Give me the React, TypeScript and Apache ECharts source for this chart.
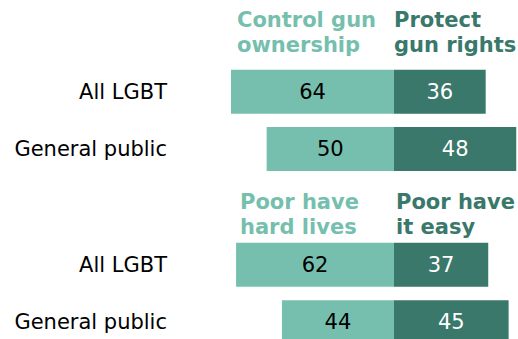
import React, { useEffect, useRef } from "react";
import * as echarts from "echarts";

const categories = ["All LGBT", "General public"];
const controlGun = [64, 50];
const protectGun = [36, 48];
const poorHard = [62, 44];
const poorEasy = [37, 45];
const headerLeft1 = "Control gun\nownership";
const headerRight1 = "Protect\ngun rights";
const headerLeft2 = "Poor have\nhard lives";
const headerRight2 = "Poor have\nit easy";

const LIGHT = "#76bfae";
const DARK = "#39786a";
const FONT = "DejaVu Sans";

export default function App() {
  const ref = useRef<HTMLDivElement>(null);
  useEffect(() => {
    const chart = echarts.init(ref.current!, null, { renderer: "svg" });
    const scale = 2.547;
    const zeroX = 394;
    const minV = -70;
    const maxV = 50;
    const gridLeft = zeroX + minV * scale;
    const gridWidth = (maxV - minV) * scale;
    const grids = [
      { left: gridLeft, width: gridWidth, top: 63, height: 114.6, outerBoundsMode: "none" },
      { left: gridLeft, width: gridWidth, top: 236, height: 115, outerBoundsMode: "none" },
    ];
    const xAxes = grids.map((_, i) => ({
      type: "value" as const,
      gridIndex: i,
      min: minV,
      max: maxV,
      show: false,
    }));
    const yAxes = grids.map((_, i) => ({
      type: "category" as const,
      gridIndex: i,
      data: categories,
      inverse: true,
      axisLine: { show: false },
      axisTick: { show: false },
      axisLabel: {
        margin: gridLeft - 167,
        color: "#000",
        fontSize: 21,
        fontFamily: FONT,
      },
    }));
    const mk = (data: number[], idx: number, color: string, labelColor: string, sign: number) => ({
      type: "bar" as const,
      xAxisIndex: idx,
      yAxisIndex: idx,
      stack: "s" + idx,
      barWidth: 44,
      data: data.map((v) => sign * v),
      itemStyle: { color },
      label: {
        show: true,
        position: "inside" as const,
        formatter: (p: any) => String(Math.abs(p.value)),
        color: labelColor,
        fontSize: 21,
        fontFamily: FONT,
      },
    });
    const header = (x: number, y: number, text: string, color: string) => ({
      type: "text" as const,
      x,
      y,
      style: {
        text,
        fill: color,
        font: `bold 21px "${FONT}"`,
        lineHeight: 24.5,
        textAlign: "left",
        textVerticalAlign: "top",
      },
    });
    chart.setOption({
      animation: false,
      grid: grids,
      xAxis: xAxes,
      yAxis: yAxes,
      series: [
        mk(controlGun, 0, LIGHT, "#000", -1),
        mk(protectGun, 0, DARK, "#fff", 1),
        mk(poorHard, 1, LIGHT, "#000", -1),
        mk(poorEasy, 1, DARK, "#fff", 1),
      ],
      graphic: [
        header(237, 8, headerLeft1, LIGHT),
        header(394, 8, headerRight1, DARK),
        header(240, 190, headerLeft2, LIGHT),
        header(396, 190, headerRight2, DARK),
      ],
    });
    return () => chart.dispose();
  }, []);
  return (
    <div
      ref={ref}
      style={{ position: "fixed", left: 0, top: 0, width: 518, height: 339, background: "#fff" }}
    />
  );
}
